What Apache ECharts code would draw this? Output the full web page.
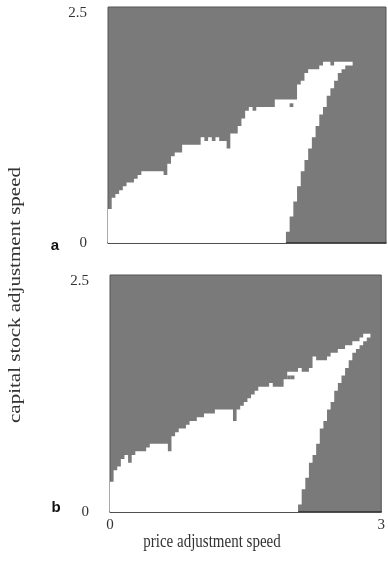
<!DOCTYPE html>
<html>
<head>
<meta charset="utf-8">
<script src="https://cdn.jsdelivr.net/npm/echarts@6.0.0/dist/echarts.min.js"></script>
<style>
  html, body { margin: 0; padding: 0; background: #fff; }
  #chart { width: 388px; height: 577px; }
</style>
</head>
<body>
<div id="chart"></div>
<script>
// grid step of the stability scan (price speed axis)
const dx = 0.04

// panel a: upper edge of the stable (white) region per column
const topA = [
  0.36, 0.48, 0.52, 0.56, 0.60, 0.64, 0.64, 0.68, 0.72, 0.76,
  0.76, 0.76, 0.76, 0.76, 0.76, 0.72, 0.84, 0.92, 0.96, 0.96,
  1.04, 1.04, 1.04, 1.04, 1.04, 1.12, 1.08, 1.12, 1.08, 1.12,
  1.08, 1.08, 1.00, 1.16, 1.16, 1.24, 1.32, 1.40, 1.44, 1.40,
  1.44, 1.44, 1.44, 1.44, 1.44, 1.52, 1.52, 1.52, 1.52, 1.52,
  1.52, 1.68, 1.72, 1.80, 1.84, 1.84, 1.84, 1.88, 1.92, 1.92,
  1.88, 1.92, 1.92, 1.92, 1.92, 1.92
]
// panel a: lower edge (right-hand boundary) per column
const bottomA = [
  0, 0, 0, 0, 0, 0, 0, 0, 0, 0,
  0, 0, 0, 0, 0, 0, 0, 0, 0, 0,
  0, 0, 0, 0, 0, 0, 0, 0, 0, 0,
  0, 0, 0, 0, 0, 0, 0, 0, 0, 0,
  0, 0, 0, 0, 0, 0, 0, 0, 0.12, 0.28,
  0.44, 0.60, 0.76, 0.88, 1.00, 1.12, 1.24, 1.36, 1.44, 1.56,
  1.64, 1.72, 1.80, 1.84, 1.88, 1.88
]
// unstable cells inside the white region: [column, yFrom, yTo]
const holesA = [[49, 1.44, 1.48]]

// panel b
const topB = [
  0.32, 0.44, 0.48, 0.56, 0.60, 0.52, 0.60, 0.64, 0.64, 0.64,
  0.68, 0.72, 0.72, 0.72, 0.72, 0.72, 0.64, 0.80, 0.84, 0.88,
  0.88, 0.92, 0.96, 0.96, 1.00, 1.00, 1.04, 1.04, 1.04, 1.08,
  1.08, 1.08, 1.08, 1.08, 0.96, 1.08, 1.12, 1.16, 1.20, 1.24,
  1.28, 1.32, 1.32, 1.32, 1.36, 1.32, 1.32, 1.32, 1.40, 1.48,
  1.48, 1.48, 1.52, 1.48, 1.48, 1.52, 1.64, 1.60, 1.60, 1.60,
  1.64, 1.68, 1.68, 1.72, 1.72, 1.76, 1.76, 1.80, 1.80, 1.84,
  1.88, 1.88
]
const bottomB = [
  0, 0, 0, 0, 0, 0, 0, 0, 0, 0,
  0, 0, 0, 0, 0, 0, 0, 0, 0, 0,
  0, 0, 0, 0, 0, 0, 0, 0, 0, 0,
  0, 0, 0, 0, 0, 0, 0, 0, 0, 0,
  0, 0, 0, 0, 0, 0, 0, 0, 0, 0,
  0, 0, 0.08, 0.24, 0.36, 0.52, 0.60, 0.72, 0.88, 0.96,
  1.08, 1.16, 1.28, 1.36, 1.44, 1.52, 1.60, 1.68, 1.72, 1.76,
  1.80, 1.84
]
const holesB = [[49, 1.40, 1.44], [50, 1.40, 1.44]]

const xTicks = [0, 3]
const yTicks = [0, 2.5]

const GREY = '#7a7a7a'
const SERIF = '"Liberation Serif", "DejaVu Serif", serif'

// white region as one stepped polygon
const region = (top, bottom) => (params, api) => {
  const pts = []
  for (let i = 0; i < top.length; i++) {
    pts.push(api.coord([i * dx, top[i]]), api.coord([(i + 1) * dx, top[i]]))
  }
  for (let i = top.length - 1; i >= 0; i--) {
    pts.push(api.coord([(i + 1) * dx, bottom[i]]), api.coord([i * dx, bottom[i]]))
  }
  return { type: 'polygon', shape: { points: pts }, style: { fill: '#fff' } }
}

const hole = (params, api) => {
  const c = api.value(0)
  const p0 = api.coord([c * dx, api.value(2)])
  const p1 = api.coord([(c + 1) * dx, api.value(1)])
  return {
    type: 'rect',
    shape: { x: p0[0], y: p0[1], width: p1[0] - p0[0], height: p1[1] - p0[1] },
    style: { fill: GREY }
  }
}

const yAxis = (gridIndex) => ({
  gridIndex,
  type: 'value',
  min: yTicks[0],
  max: yTicks[1],
  interval: yTicks[1],
  axisLine: { show: false },
  axisTick: { show: false },
  splitLine: { show: false },
  axisLabel: {
    margin: 21,
    color: '#333',
    fontFamily: SERIF,
    fontSize: 15,
    formatter: (v) => (v === 0 ? '0' : '{top|' + v + '}'),
    rich: { top: { fontFamily: SERIF, fontSize: 15, color: '#333', padding: [12, 0, 0, 0] } }
  }
})

const xAxis = (gridIndex, labels) => ({
  gridIndex,
  type: 'value',
  min: xTicks[0],
  max: xTicks[1],
  interval: xTicks[1],
  axisLine: { show: true, onZero: false, lineStyle: { color: '#333', width: 1.5 } },
  axisTick: { show: false },
  splitLine: { show: false },
  axisLabel: { show: labels, margin: 6, color: '#333', fontFamily: SERIF, fontSize: 15 }
})

const gridStyle = { show: true, backgroundColor: GREY, borderColor: '#555', borderWidth: 1 }

const chart = echarts.init(document.getElementById('chart'))
chart.setOption({
  animation: false,
  grid: [
    { left: 108, top: 7, width: 278, height: 236, ...gridStyle },
    { left: 110, top: 275, width: 276, height: 237, ...gridStyle }
  ],
  xAxis: [xAxis(0, false), xAxis(1, true)],
  yAxis: [yAxis(0), yAxis(1)],
  series: [
    { type: 'custom', xAxisIndex: 0, yAxisIndex: 0, silent: true, renderItem: region(topA, bottomA), data: [[0, 0]] },
    { type: 'custom', xAxisIndex: 0, yAxisIndex: 0, silent: true, renderItem: hole, data: holesA },
    { type: 'custom', xAxisIndex: 1, yAxisIndex: 1, silent: true, renderItem: region(topB, bottomB), data: [[0, 0]] },
    { type: 'custom', xAxisIndex: 1, yAxisIndex: 1, silent: true, renderItem: hole, data: holesB }
  ],
  graphic: [
    {
      type: 'text', x: 16, y: 295, rotation: Math.PI / 2, scaleX: 1.4, scaleY: 1.1,
      style: { text: 'capital stock adjustment speed', font: '15px ' + SERIF, fill: '#333', align: 'center', verticalAlign: 'middle' }
    },
    {
      type: 'text', x: 212, y: 542, scaleY: 1.2,
      style: { text: 'price adjustment speed', font: '15px ' + SERIF, fill: '#333', align: 'center', verticalAlign: 'middle' }
    },
    { type: 'text', x: 55, y: 246, style: { text: 'a', font: 'bold 15px "Liberation Sans", Arial, sans-serif', fill: '#111', align: 'center', verticalAlign: 'middle' } },
    { type: 'text', x: 56, y: 508, style: { text: 'b', font: 'bold 15px "Liberation Sans", Arial, sans-serif', fill: '#111', align: 'center', verticalAlign: 'middle' } }
  ]
})
</script>
</body>
</html>
